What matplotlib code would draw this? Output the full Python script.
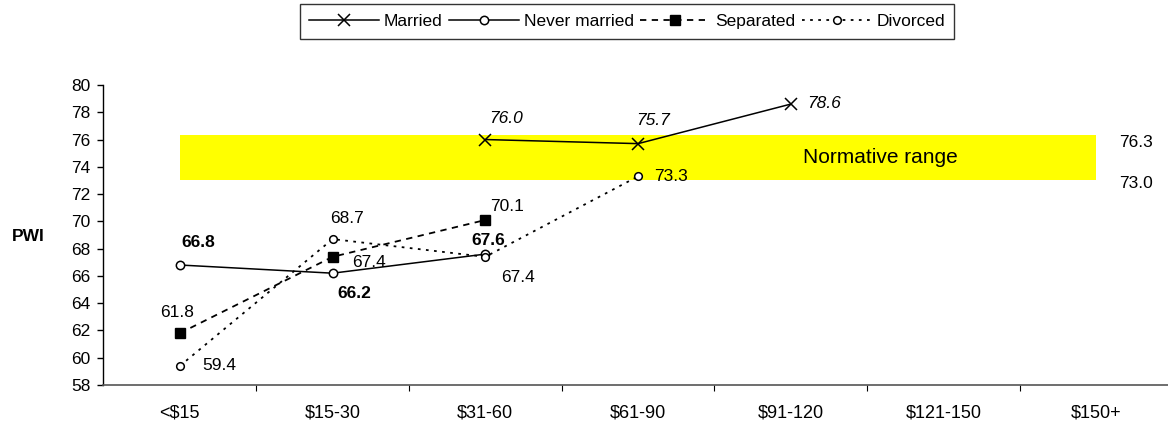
import matplotlib
matplotlib.use("Agg")
import matplotlib.pyplot as plt
from matplotlib.ticker import FixedLocator

plt.rcParams["font.family"] = ["Liberation Sans", "DejaVu Sans"]

# Household income brackets ($'000)
categories = ["<$15", "$15-30", "$31-60", "$61-90", "$91-120", "$121-150", "$150+"]

# PWI by marital status (None = no value for that bracket)
married = [None, None, 76.0, 75.7, 78.6, None, None]
never_married = [66.8, 66.2, 67.6, None, None, None, None]
separated = [61.8, 67.4, 70.1, None, None, None, None]
divorced = [59.4, 68.7, 67.4, 73.3, None, None, None]

# Normative range for the PWI
norm_low = 73.0
norm_high = 76.3

y_ticks = list(range(58, 81, 2))

fig = plt.figure(figsize=(11.68, 4.26), dpi=100)
ax = fig.add_axes([0.0886, 0.0962, 0.9154, 0.7043])

x = list(range(len(categories)))


def pts(values):
    xs = [i for i, v in zip(x, values) if v is not None]
    ys = [v for v in values if v is not None]
    return xs, ys


# normative band spans the first to last bracket centre
ax.fill_between([x[0], x[-1]], norm_low, norm_high, color="#ffff00", lw=0, zorder=1)
ax.text(4.585, (norm_low + norm_high) / 2, "Normative range", fontsize=15,
        ha="center", va="center", zorder=2)
ax.annotate(f"{norm_high:.1f}", xy=(x[-1], norm_high), xytext=(40, -7),
            textcoords="offset pixels", fontsize=12.5, ha="center", va="center",
            annotation_clip=False)
ax.annotate(f"{norm_low:.1f}", xy=(x[-1], norm_low), xytext=(40, -3),
            textcoords="offset pixels", fontsize=12.5, ha="center", va="center",
            annotation_clip=False)

xs, ys = pts(married)
ax.plot(xs, ys, color="black", lw=1.1, marker="x", ms=8.5, mew=1.1,
        label="Married", zorder=4)
xs, ys = pts(never_married)
ax.plot(xs, ys, color="black", lw=1.1, marker="o", ms=6, mfc="white", mew=1.1,
        label="Never married", zorder=4)
xs, ys = pts(separated)
ax.plot(xs, ys, color="black", lw=1.3, ls=(0, (3.5, 3)), marker="s", ms=6.5,
        mfc="black", label="Separated", zorder=4)
xs, ys = pts(divorced)
ax.plot(xs, ys, color="black", lw=1.3, ls=(0, (1.5, 3)), marker="o", ms=5.5,
        mfc="white", mew=1.1, label="Divorced", zorder=4)

# value labels: (series, offsets in pixels, font style)
label_specs = [
    (never_married, [(18, 23), (22, -20), (3, 14)], dict(fontweight="bold")),
    (separated, [(-3, 21), (36, -6), (22, 14)], {}),
    (divorced, [(39, 0), (14, 21), (33, -21), (33, 0)], {}),
    (married, [(21, 21), (15, 23), (33, 1)], dict(fontstyle="italic")),
]
for values, offsets, style in label_specs:
    xs, ys = pts(values)
    for xi, yi, off in zip(xs, ys, offsets):
        ax.annotate(f"{yi:.1f}", xy=(xi, yi), xytext=off, textcoords="offset pixels",
                    ha="center", va="center", fontsize=12.5, zorder=5, **style)

ax.set_xlim(-0.5, len(categories) - 0.5)
ax.set_ylim(58, 80)
ax.set_yticks(y_ticks)
ax.tick_params(axis="y", direction="out", length=4.3, width=1, labelsize=12.5, pad=5)

ax.set_xticks(x)
ax.set_xticklabels(categories)
ax.xaxis.set_minor_locator(FixedLocator([i + 0.5 for i in x]))
ax.tick_params(axis="x", which="major", length=0, labelsize=13, pad=14)
ax.tick_params(axis="x", which="minor", direction="out", length=4, width=0.8)

for side in ("top", "right"):
    ax.spines[side].set_visible(False)
ax.spines["left"].set_linewidth(1)
ax.spines["bottom"].set_color("#555555")
ax.spines["bottom"].set_linewidth(1.2)

ax.set_ylabel("PWI", fontsize=12.5, fontweight="bold", rotation=0, va="center",
              ha="center")
ax.yaxis.set_label_coords(-0.07, 0.495)

leg = fig.legend(loc="center", bbox_to_anchor=(627 / 1168, 1 - 21.5 / 426), ncol=4,
                 frameon=True, fancybox=False, edgecolor="black", fontsize=12.5,
                 handlelength=4.0, handletextpad=0.28, columnspacing=0.4,
                 borderpad=0.55, numpoints=1)
leg.get_frame().set_linewidth(1)

fig.savefig("out.png", dpi=100)
